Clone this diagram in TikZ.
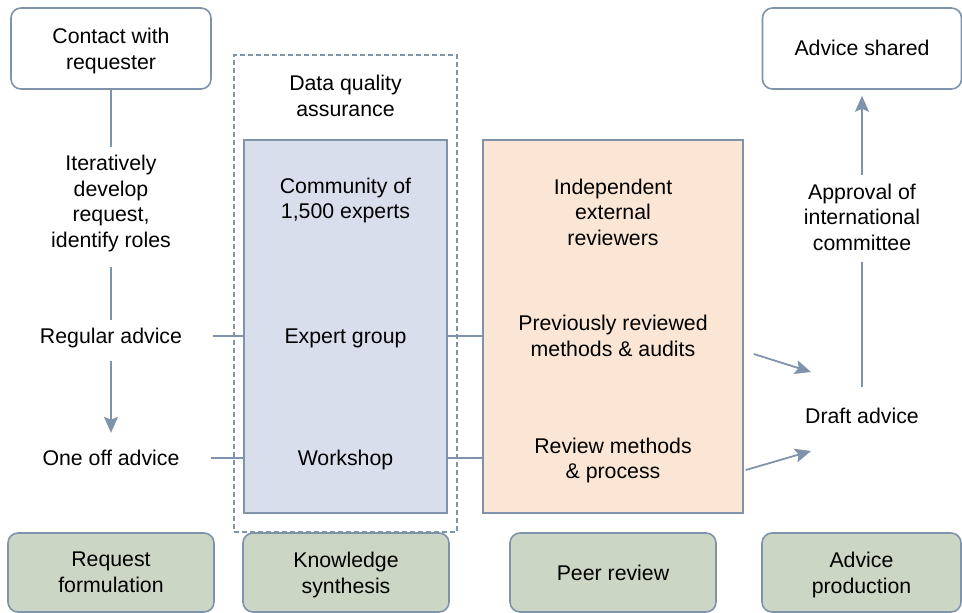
\documentclass[tikz,border=0pt]{standalone}
\usepackage{fontspec}
\setmainfont{Liberation Sans}
\usetikzlibrary{arrows.meta,calc}
\definecolor{bord}{HTML}{7F93AB}
\definecolor{bluefill}{HTML}{D9DEEC}
\definecolor{peerfill}{HTML}{FBE6D5}
\definecolor{greenfill}{HTML}{CBD6C5}
\begin{document}
\begin{tikzpicture}[x=1pt,y=-1pt,
  mtxt/.style={inner sep=0pt,align=center,font=\fontsize{21.3}{25.5}\selectfont},
  dsc/.style={mtxt,yshift=-2.25pt},
  txt/.style={mtxt,text height=17.5pt,text depth=2.5pt},
  topbox/.style={draw=bord,line width=1.6pt,rounded corners=10pt,fill=white,inner sep=0pt},
  phasebox/.style={draw=bord,line width=1.6pt,rounded corners=10pt,fill=greenfill,inner sep=0pt,minimum height=79pt},
  bigbox/.style={draw=bord,line width=1.6pt,inner sep=0pt},
  conn/.style={draw=bord,line width=1.8pt},
  arr/.style={conn,-{Stealth[width=14pt,length=16pt,inset=3pt]}}]
\useasboundingbox (0,0) rectangle (962,613);

% dashed quality box and big boxes
\node[draw=bord,line width=1.5pt,dash pattern=on 5pt off 3pt,minimum width=223pt,minimum height=477pt,inner sep=0pt] (dqabox) at (345.5,293.5) {};
\node[bigbox,fill=bluefill,minimum width=203pt,minimum height=373pt] (blue) at (345.5,326.5) {};
\node[bigbox,fill=peerfill,minimum width=260pt,minimum height=373pt] (peer) at (613,326.5) {};

% top boxes
\node[topbox,minimum width=200pt,minimum height=81pt] (contact) at (111,48.5) {};
\node[dsc] at (contact) {Contact with\\requester};
\node[topbox,minimum width=199pt,minimum height=81pt] (shared) at (862,48.5) {};
\node[txt] at (shared) {Advice shared};

% left column texts
\node[dsc] (iter) at (111,201) {Iteratively\\develop\\request,\\identify roles};
\node[txt] (regular) at (111,336) {Regular advice};
\node[txt] (oneoff) at (111,458) {One off advice};

% middle texts
\node[mtxt] (dqa) at (345.5,96) {Data quality\\assurance};
\node[dsc] (community) at (345.5,198) {Community of\\1,500 experts};
\node[txt] (expert) at (345.5,336) {Expert group};
\node[txt] (workshop) at (345.5,458) {Workshop};

% peer texts
\node[mtxt] (indep) at (613,212) {Independent\\external\\reviewers};
\node[mtxt] (prev) at (613,336) {Previously reviewed\\methods \& audits};
\node[dsc] (revm) at (613,458) {Review methods\\\& process};

% right column
\node[txt] (draft) at (862,416) {Draft advice};
\node[mtxt] (approval) at (862,217) {Approval of\\international\\committee};

% bottom phase boxes
\node[phasebox,minimum width=206pt] (req) at (111,572.5) {};
\node[mtxt] at (req) {Request\\formulation};
\node[phasebox,minimum width=206pt] (know) at (346,572.5) {};
\node[dsc] at (know) {Knowledge\\synthesis};
\node[phasebox,minimum width=206pt] (peerrev) at (613,572.5) {};
\node[txt] at (peerrev) {Peer review};
\node[phasebox,minimum width=199pt] (advprod) at (861.5,572.5) {};
\node[dsc] at (advprod) {Advice\\production};

% connectors left column
\draw[conn,shorten >=8pt] (contact.south) -- (iter.north);
\draw[conn,shorten <=15.5pt,shorten >=6pt] (iter.south) -- (regular.north);
\draw[arr,shorten <=15pt,shorten >=15pt] (regular.south) -- (oneoff.north);

% horizontal links
\draw[conn] ($(regular.east)+(31,0)$) -- (regular.east -| blue.west);
\draw[conn] ($(oneoff.east)+(31,0)$) -- (oneoff.east -| blue.west);
\draw[conn] (blue.east |- expert) -- (peer.west |- expert);
\draw[conn] (blue.east |- workshop) -- (peer.west |- workshop);

% arrows to draft
\coordinate (p1) at ($(peer.east |- prev)+(10,18)$);
\coordinate (t1) at ($(draft)+(-51,-44)$);
\coordinate (p2) at ($(peer.east |- workshop)+(2,12)$);
\coordinate (t2) at ($(draft)+(-51,35)$);
\draw[arr] (p1) -- (t1);
\draw[arr] (p2) -- (t2);

% right column
\draw[conn,shorten <=19pt,shorten >=11.8pt] (draft.north) -- (approval.south);
\draw[arr,shorten <=8.8pt,shorten >=6pt] (approval.north) -- (shared.south);
\end{tikzpicture}
\end{document}
